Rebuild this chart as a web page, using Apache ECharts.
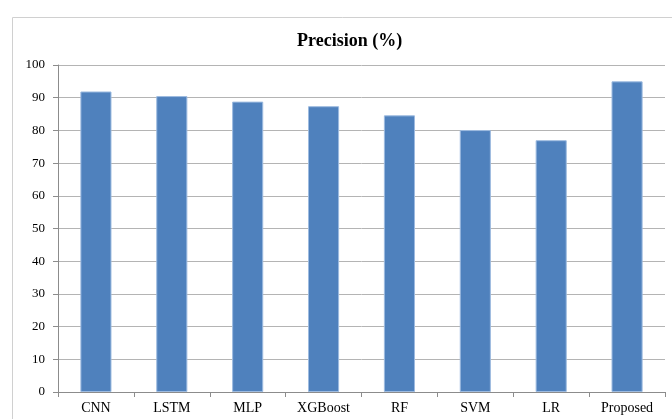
<!DOCTYPE html>
<html>
<head>
<meta charset="utf-8">
<script src="https://cdn.jsdelivr.net/npm/echarts@6/dist/echarts.min.js"></script>
<style>
  html, body { margin: 0; padding: 0; background: #fff; }
  #chart { width: 672px; height: 419px; }
</style>
</head>
<body>
<div id="chart"></div>
<script>
const models = ['CNN', 'LSTM', 'MLP', 'XGBoost', 'RF', 'SVM', 'LR', 'Proposed'];
const precision = [91.9, 90.5, 88.8, 87.4, 84.6, 80.1, 77.0, 95.0];

const chart = echarts.init(document.getElementById('chart'));
const serif = '"Liberation Serif", "DejaVu Serif", serif';

chart.setOption({
  animation: false,
  graphic: [{
    type: 'rect',
    shape: { x: 12.5, y: 17.5, width: 700, height: 450 },
    style: { fill: 'none', stroke: '#d0d0d0', lineWidth: 1 },
    silent: true
  }],
  title: {
    text: 'Precision (%)',
    left: 292,
    top: 27,
    textStyle: { fontFamily: serif, fontSize: 18, fontWeight: 'bold', color: '#000' }
  },
  grid: { left: 58, right: 7, top: 65, bottom: 27 },
  xAxis: {
    type: 'category',
    data: models,
    axisLine: { lineStyle: { color: '#8c8c8c' } },
    axisTick: { show: true, alignWithLabel: false, length: 5, lineStyle: { color: '#8c8c8c' } },
    axisLabel: { fontFamily: serif, fontSize: 14, color: '#000', margin: 9, interval: 0 }
  },
  yAxis: {
    type: 'value',
    min: 0,
    max: 100,
    interval: 10,
    axisLine: { show: true, lineStyle: { color: '#8c8c8c' } },
    axisTick: { show: true, length: 5, lineStyle: { color: '#8c8c8c' } },
    axisLabel: { fontFamily: serif, fontSize: 13, color: '#000', margin: 13 },
    splitLine: { lineStyle: { color: '#b4b4b4' } }
  },
  series: [{
    type: 'bar',
    data: precision,
    barWidth: '41%',
    itemStyle: { color: '#4f81bd', borderColor: '#9dbbe0', borderWidth: 1 }
  }]
});
</script>
</body>
</html>
